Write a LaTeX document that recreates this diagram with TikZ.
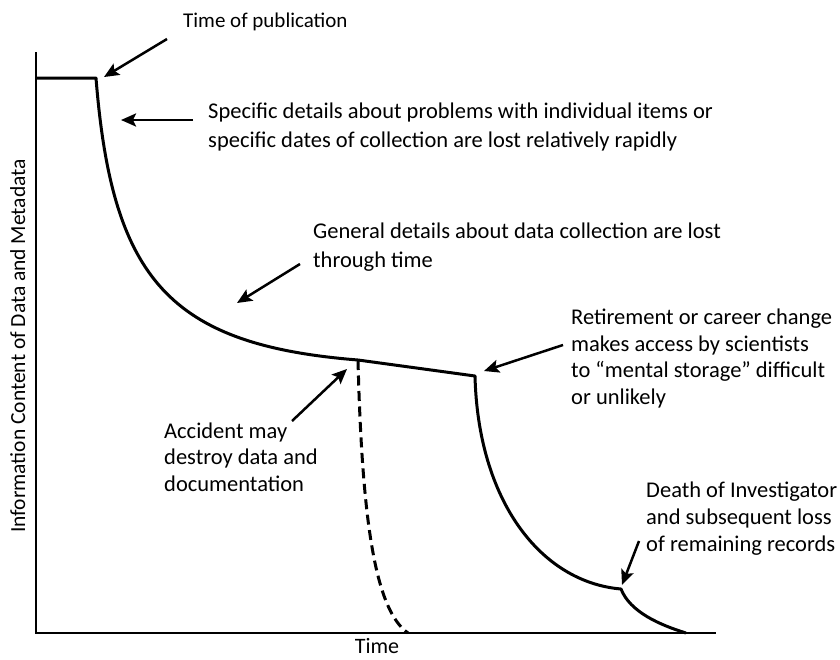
\documentclass[tikz,border=0pt]{standalone}
\usepackage{fontspec}
\setmainfont{Carlito}
\usetikzlibrary{arrows.meta}
\begin{document}
\begin{tikzpicture}[x=1pt,y=-1pt,
  curve/.style={line width=3pt, line join=round},
  axis/.style={line width=2.5pt},
  pointer/.style={line width=2.5pt,-{Stealth[length=15pt,width=13pt,inset=3pt]}},
  lbl/.style={inner sep=0pt, align=left, anchor=base west, font=\fontsize{22.5}{26.7}\selectfont},
  widelbl/.style={lbl, font=\fontsize{22.5}{28.5}\selectfont},
  axlbl/.style={inner sep=0pt, anchor=base, font=\fontsize{22}{26}\selectfont}]
\useasboundingbox (0,0) rectangle (840,659);
% axes
\coordinate (ytop) at (36,52);
\coordinate (o) at (36,633);
\coordinate (xend) at (716,633);
\draw[axis] (ytop) -- (o) -- (xend);
% curve
\coordinate (p0) at (36,78);
\coordinate (p1) at (96,78);
\coordinate (p2) at (358,360);
\coordinate (p3) at (475,376);
\coordinate (p4) at (621,589);
\coordinate (p5) at (686,633);
\coordinate (p6) at (408,633);
\draw[curve] (p0) -- (p1) .. controls (112,280) and (170,345) .. (p2) -- (p3)
  .. controls (478,500) and (540,582) .. (p4) .. controls (630,612) and (660,625) .. (p5);
\draw[curve, dash pattern=on 10pt off 5.5pt] (p2) .. controls (362,520) and (375,610) .. (p6);
% labels (anchor = baseline of the last line)
\node[lbl, font=\fontsize{21}{26.5}\selectfont] (tpub) at (183,27) {Time of publication};
\node[widelbl] (spec) at (208,147) {Specific details about problems with individual items or\\specific dates of collection are lost relatively rapidly};
\node[widelbl] (gen) at (313,267) {General details about data collection are lost\\through time};
\node[lbl] (ret) at (571,404.5) {Retirement or career change\\makes access by scientists\\to “mental storage” difficult\\or unlikely};
\node[lbl] (acc) at (164,491.5) {Accident may\\destroy data and\\documentation};
\node[lbl] (death) at (646,551) {Death of Investigator\\and subsequent loss\\of remaining records};
\node[axlbl, text depth=0pt] (xlab) at (377,653) {Time};
\node[axlbl, rotate=90, font=\fontsize{21.5}{26}\selectfont] (ylab) at (25,346) {Information Content of Data and Metadata};
% pointers
\coordinate (a1s) at (167,39);  \coordinate (a1e) at (104,77);
\coordinate (a2s) at (193,120); \coordinate (a2e) at (121,120);
\coordinate (a3s) at (300,264); \coordinate (a3e) at (237,303);
\coordinate (a4s) at (292,421); \coordinate (a4e) at (347,369);
\coordinate (a5s) at (563,345); \coordinate (a5e) at (484,371);
\coordinate (a6s) at (639,541); \coordinate (a6e) at (622,585);
\draw[pointer] (a1s) -- (a1e);
\draw[pointer] (a2s) -- (a2e);
\draw[pointer] (a3s) -- (a3e);
\draw[pointer] (a4s) -- (a4e);
\draw[pointer] (a5s) -- (a5e);
\draw[pointer] (a6s) -- (a6e);
\end{tikzpicture}
\end{document}
